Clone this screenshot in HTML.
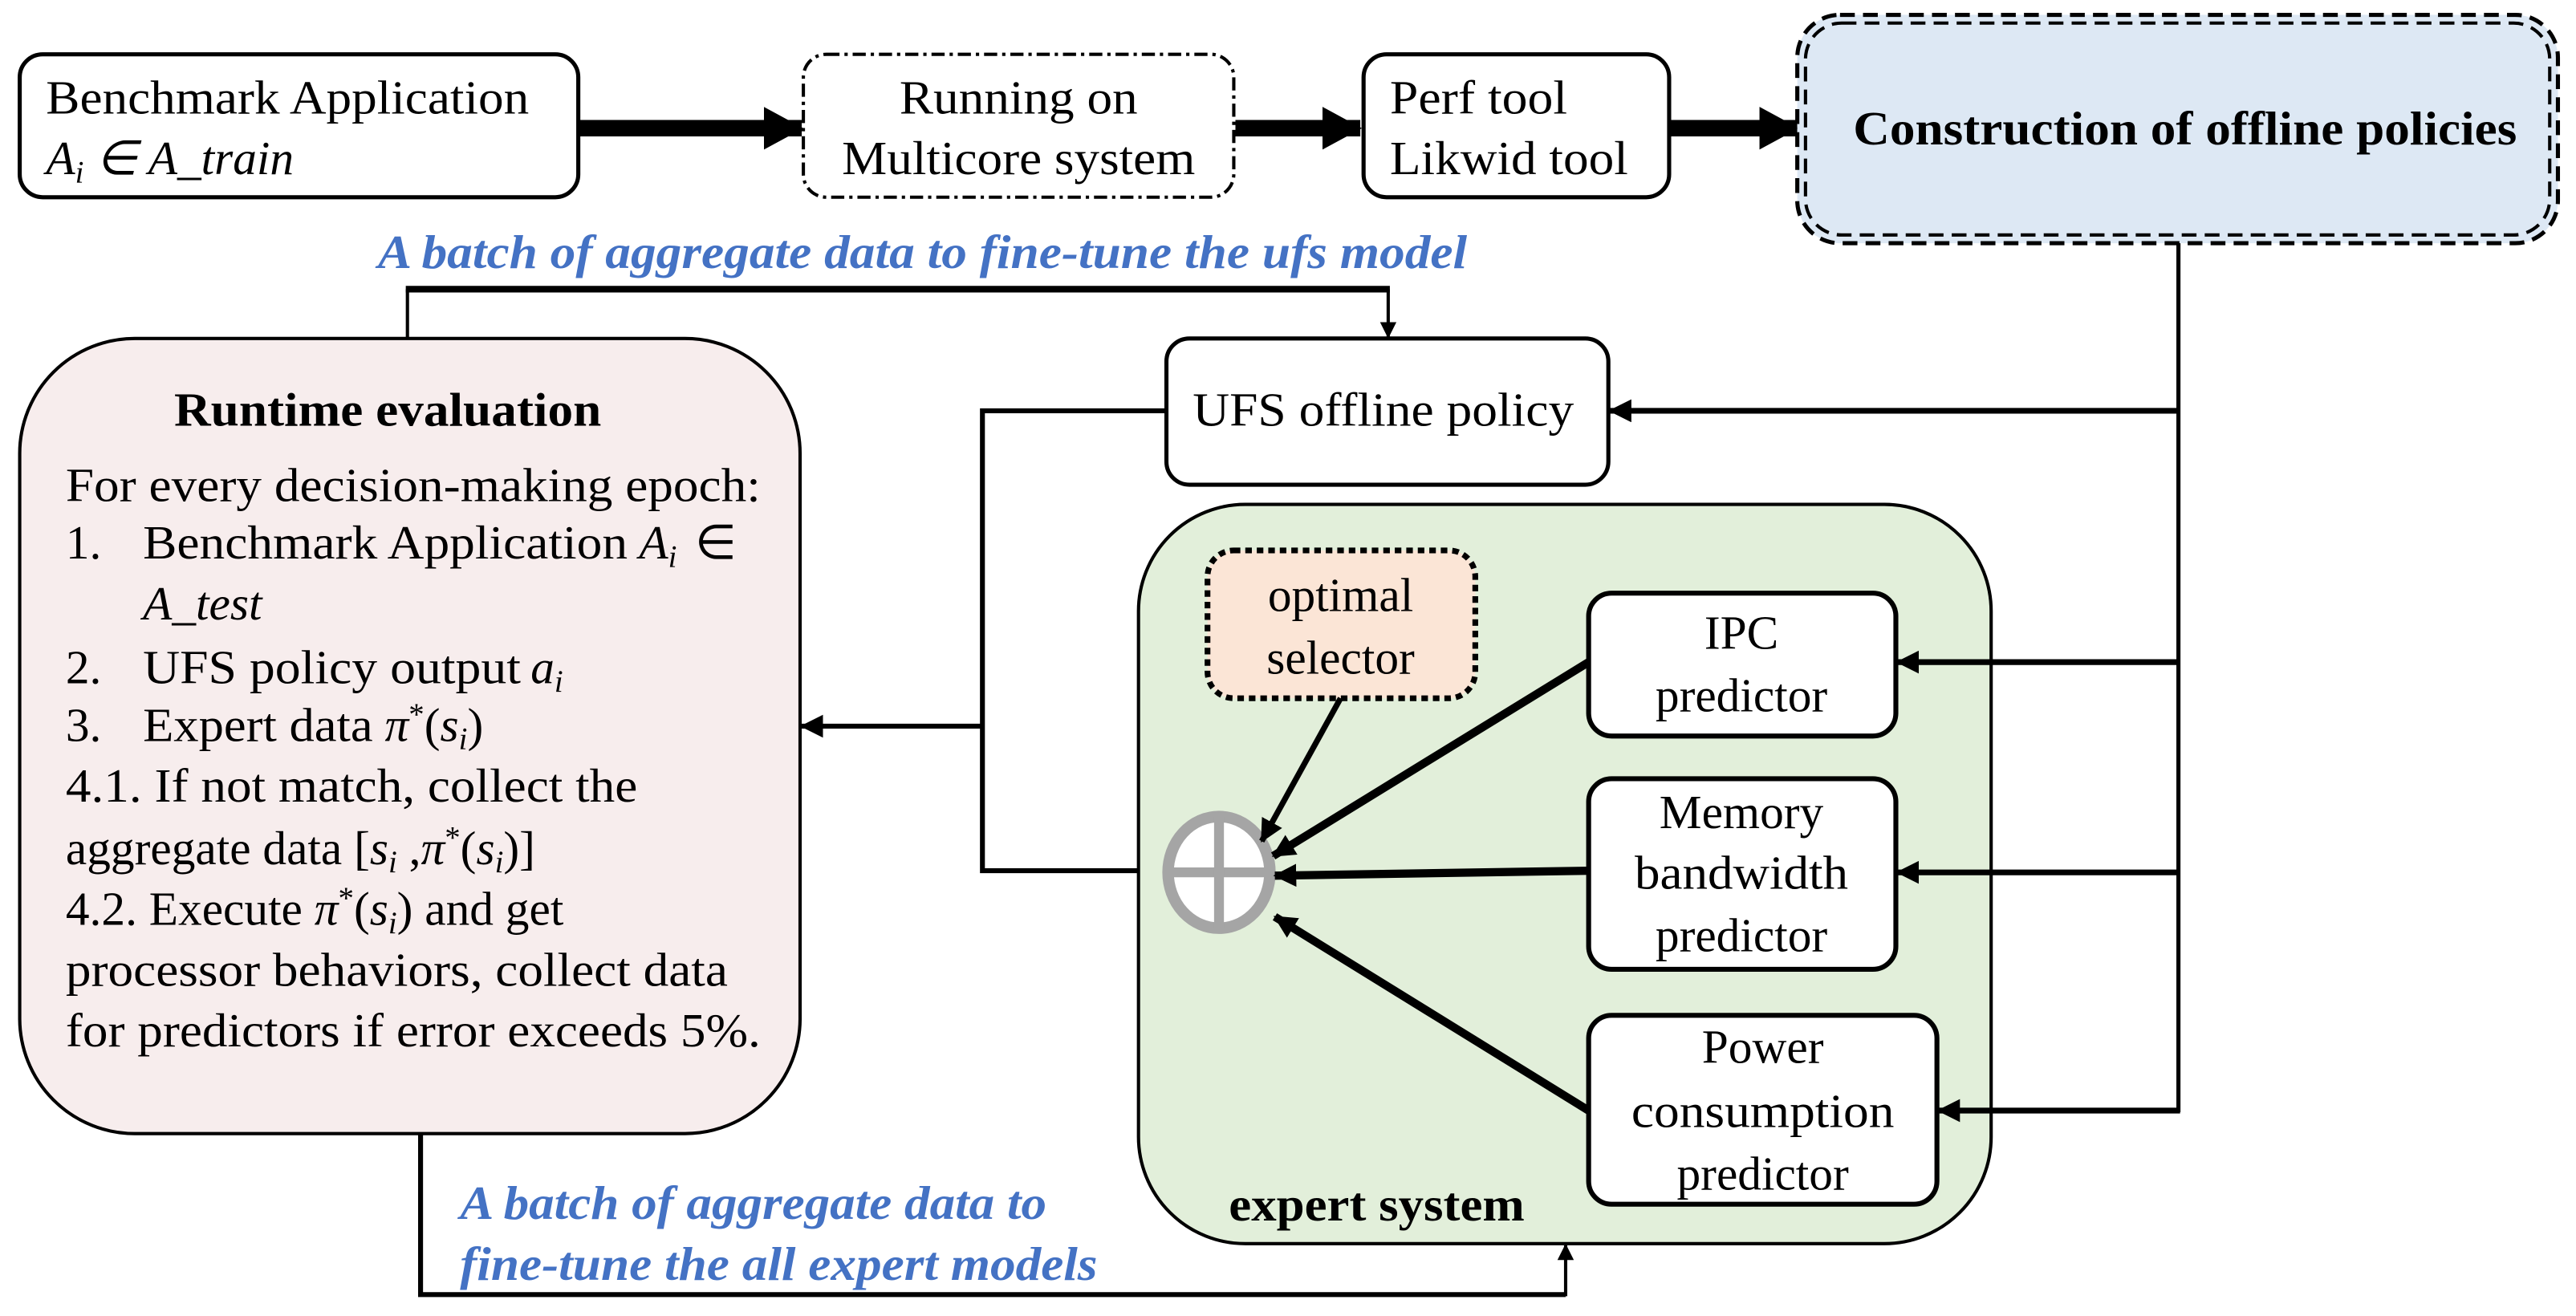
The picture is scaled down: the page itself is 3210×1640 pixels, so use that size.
<!DOCTYPE html>
<html><head><meta charset="utf-8"><style>
html,body{margin:0;padding:0;background:#fff;}
svg{display:block;}
text{font-family:"Liberation Serif",serif;font-size:29px;fill:#000;}
.b{font-weight:bold;}
.blue{fill:#4472c4;font-style:italic;font-weight:bold;}
.i{font-style:italic;}
</style></head><body>
<svg width="3210" height="1640" viewBox="0 0 1568 801" xmlns="http://www.w3.org/2000/svg">
<defs>
<marker id="ah" markerWidth="10" markerHeight="10" refX="9" refY="5" orient="auto" markerUnits="userSpaceOnUse" viewBox="0 0 10 10"><path d="M0,0 L10,5 L0,10 z" fill="#000"/></marker>
<marker id="ahs" markerWidth="14" markerHeight="14" refX="13" refY="7" orient="auto" markerUnits="userSpaceOnUse" viewBox="0 0 14 14"><path d="M0,0 L14,7 L0,14 z" fill="#000"/></marker>
<marker id="ahb" markerWidth="24" markerHeight="26" refX="23" refY="13" orient="auto" markerUnits="userSpaceOnUse" viewBox="0 0 24 26"><path d="M0,0 L24,13 L0,26 z" fill="#000"/></marker>
</defs>

<rect x="12" y="33" width="340" height="87" rx="14" fill="#fff" stroke="#000" stroke-width="2.5"/>
<text x="28" y="69" textLength="294" lengthAdjust="spacingAndGlyphs">Benchmark Application</text>
<text x="28" y="106" class="i">A<tspan font-size="19" dy="5">i</tspan><tspan dy="-5"> ∈ A_train</tspan></text>

<line x1="352" y1="78" x2="488" y2="78" stroke="#000" stroke-width="10" marker-end="url(#ahb)"/>

<rect x="489" y="33" width="262" height="87" rx="14" fill="#fff" stroke="#000" stroke-width="2" stroke-dasharray="8,3,2,3"/>
<text x="620" y="69" text-anchor="middle" textLength="145" lengthAdjust="spacingAndGlyphs">Running on</text>
<text x="620" y="106" text-anchor="middle" textLength="215" lengthAdjust="spacingAndGlyphs">Multicore system</text>

<line x1="752" y1="78" x2="828" y2="78" stroke="#000" stroke-width="10" marker-end="url(#ahb)"/>

<rect x="830" y="33" width="186" height="87" rx="14" fill="#fff" stroke="#000" stroke-width="2.5"/>
<text x="846" y="69" textLength="108" lengthAdjust="spacingAndGlyphs">Perf tool</text>
<text x="846" y="106" textLength="145" lengthAdjust="spacingAndGlyphs">Likwid tool</text>

<line x1="1016" y1="78" x2="1094" y2="78" stroke="#000" stroke-width="10" marker-end="url(#ahb)"/>

<rect x="1094" y="9" width="463" height="139" rx="26" fill="#dde8f4" stroke="#000" stroke-width="2.5" stroke-dasharray="9,5"/>
<rect x="1099" y="14" width="453" height="129" rx="22" fill="none" stroke="#000" stroke-width="2" stroke-dasharray="9,5"/>
<text x="1128" y="88" class="b" textLength="404" lengthAdjust="spacingAndGlyphs">Construction of offline policies</text>

<text x="230" y="163" class="blue" textLength="663" lengthAdjust="spacingAndGlyphs">A batch of aggregate data to fine-tune the ufs model</text>
<line x1="248" y1="207" x2="248" y2="176" stroke="#000" stroke-width="2"/>
<line x1="247" y1="176" x2="846" y2="176" stroke="#000" stroke-width="4"/>
<line x1="845" y1="176" x2="845" y2="205" stroke="#000" stroke-width="2" marker-end="url(#ah)"/>

<rect x="12" y="206" width="475" height="484" rx="70" fill="#f7eded" stroke="#000" stroke-width="2"/>
<text x="106" y="259" class="b" textLength="260" lengthAdjust="spacingAndGlyphs">Runtime evaluation</text>
<text x="40" y="305" textLength="423" lengthAdjust="spacingAndGlyphs">For every decision-making epoch:</text>
<text x="40" y="340">1.</text><text x="87" y="340" textLength="295" lengthAdjust="spacingAndGlyphs">Benchmark Application</text>
<text x="389" y="340" class="i">A<tspan font-size="19" dy="5">i</tspan></text><text x="423" y="340">∈</text>
<text x="87" y="377" class="i">A_test</text>
<text x="40" y="416">2.</text><text x="87" y="416" textLength="230" lengthAdjust="spacingAndGlyphs">UFS policy output</text><text x="323" y="416" class="i">a<tspan font-size="19" dy="5">i</tspan></text>
<text x="40" y="451">3.</text><text x="87" y="451"><tspan textLength="140" lengthAdjust="spacingAndGlyphs">Expert data</tspan> <tspan class="i">π</tspan><tspan font-size="19" dy="-10">*</tspan><tspan dy="10">(</tspan><tspan class="i">s<tspan font-size="19" dy="5">i</tspan></tspan><tspan dy="-5">)</tspan></text>
<text x="40" y="488" textLength="348" lengthAdjust="spacingAndGlyphs">4.1. If not match, collect the</text>
<text x="40" y="526">aggregate data [<tspan class="i">s<tspan font-size="19" dy="5">i</tspan></tspan><tspan dy="-5"> ,</tspan><tspan class="i">π</tspan><tspan font-size="19" dy="-10">*</tspan><tspan dy="10">(</tspan><tspan class="i">s<tspan font-size="19" dy="5">i</tspan></tspan><tspan dy="-5">)]</tspan></text>
<text x="40" y="563">4.2. Execute <tspan class="i">π</tspan><tspan font-size="19" dy="-10">*</tspan><tspan dy="10">(</tspan><tspan class="i">s<tspan font-size="19" dy="5">i</tspan></tspan><tspan dy="-5">) and get</tspan></text>
<text x="40" y="600" textLength="403" lengthAdjust="spacingAndGlyphs">processor behaviors, collect data</text>
<text x="40" y="637" textLength="423" lengthAdjust="spacingAndGlyphs">for predictors if error exceeds 5%.</text>

<rect x="710" y="206" width="269" height="89" rx="14" fill="#fff" stroke="#000" stroke-width="2.5"/>
<text x="726" y="259" textLength="232" lengthAdjust="spacingAndGlyphs">UFS offline policy</text>

<polyline points="710,250 598,250 598,530 712,530" fill="none" stroke="#000" stroke-width="3"/>
<line x1="598" y1="442" x2="488" y2="442" stroke="#000" stroke-width="3" marker-end="url(#ahs)"/>

<line x1="1326" y1="148" x2="1326" y2="677" stroke="#000" stroke-width="2.5"/>
<line x1="1327" y1="250" x2="980" y2="250" stroke="#000" stroke-width="3.5" marker-end="url(#ahs)"/>

<rect x="693" y="307" width="519" height="450" rx="65" fill="#e2efda" stroke="#000" stroke-width="2"/>
<text x="748" y="743" class="b" textLength="180" lengthAdjust="spacingAndGlyphs">expert system</text>

<rect x="735" y="335" width="163" height="90" rx="16" fill="#fbe5d6" stroke="#000" stroke-width="3.5" stroke-dasharray="4,3"/>
<text x="816" y="372" text-anchor="middle">optimal</text>
<text x="816" y="410" text-anchor="middle">selector</text>

<rect x="967" y="361" width="187" height="87" rx="14" fill="#fff" stroke="#000" stroke-width="3"/>
<text x="1060" y="395" text-anchor="middle">IPC</text>
<text x="1060" y="433" text-anchor="middle">predictor</text>

<rect x="967" y="474" width="187" height="116" rx="14" fill="#fff" stroke="#000" stroke-width="3"/>
<text x="1060" y="504" text-anchor="middle">Memory</text>
<text x="1060" y="541" text-anchor="middle" textLength="130" lengthAdjust="spacingAndGlyphs">bandwidth</text>
<text x="1060" y="579" text-anchor="middle">predictor</text>

<rect x="967" y="618" width="212" height="115" rx="14" fill="#fff" stroke="#000" stroke-width="3"/>
<text x="1073" y="647" text-anchor="middle">Power</text>
<text x="1073" y="686" text-anchor="middle" textLength="160" lengthAdjust="spacingAndGlyphs">consumption</text>
<text x="1073" y="724" text-anchor="middle">predictor</text>

<line x1="1327" y1="403" x2="1155" y2="403" stroke="#000" stroke-width="3.5" marker-end="url(#ahs)"/>
<line x1="1327" y1="531" x2="1155" y2="531" stroke="#000" stroke-width="3.5" marker-end="url(#ahs)"/>
<line x1="1327" y1="676" x2="1180" y2="676" stroke="#000" stroke-width="3.5" marker-end="url(#ahs)"/>

<ellipse cx="742" cy="531" rx="31" ry="34" fill="#fff" stroke="#a5a5a5" stroke-width="7"/>
<line x1="711" y1="531" x2="773" y2="531" stroke="#a5a5a5" stroke-width="6"/>
<line x1="742" y1="497" x2="742" y2="565" stroke="#a5a5a5" stroke-width="6"/>

<line x1="816" y1="425" x2="768" y2="512" stroke="#000" stroke-width="3.5" marker-end="url(#ahs)"/>
<line x1="967" y1="403" x2="775" y2="521" stroke="#000" stroke-width="5" marker-end="url(#ahs)"/>
<line x1="967" y1="530" x2="776" y2="533" stroke="#000" stroke-width="5" marker-end="url(#ahs)"/>
<line x1="967" y1="676" x2="776" y2="558" stroke="#000" stroke-width="5" marker-end="url(#ahs)"/>

<polyline points="256,690 256,788 953,788" fill="none" stroke="#000" stroke-width="3"/>
<line x1="953" y1="789" x2="953" y2="758" stroke="#000" stroke-width="2" marker-end="url(#ah)"/>
<text x="280" y="742" class="blue" textLength="357" lengthAdjust="spacingAndGlyphs">A batch of aggregate data to</text>
<text x="280" y="779" class="blue" textLength="388" lengthAdjust="spacingAndGlyphs">fine-tune the all expert models</text>
</svg>
</body></html>
